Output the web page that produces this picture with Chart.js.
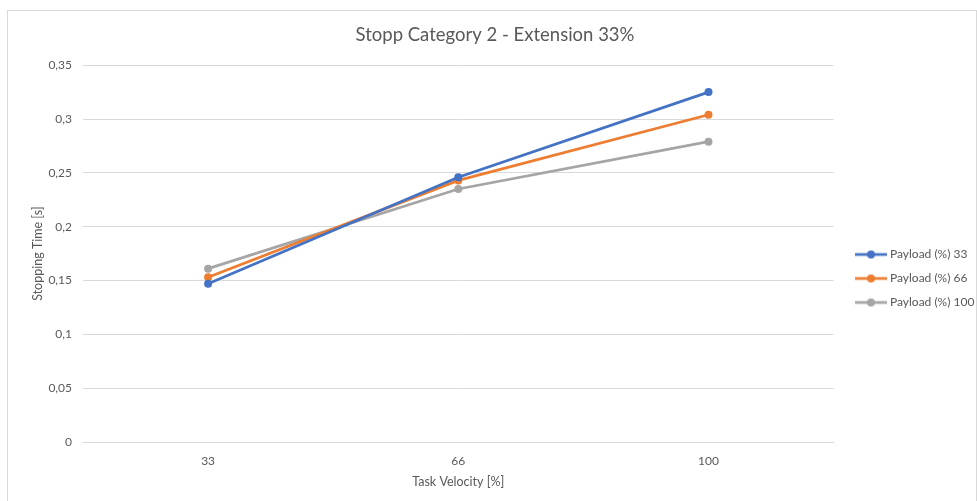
<!DOCTYPE html>
<html>
<head>
<meta charset="utf-8">
<script src="https://cdn.jsdelivr.net/npm/chart.js@4.4.1/dist/chart.umd.min.js"></script>
<style>
  html, body { margin: 0; padding: 0; background: #fff; overflow: hidden; }
  #wrap { position: relative; width: 977px; height: 501px; }
  #frame { position: absolute; left: 7px; top: 10px; width: 968px; height: 495px;
           border-left: 1px solid #d9d9d9; border-top: 1px solid #d9d9d9; border-right: 1px solid #d9d9d9; pointer-events: none; }
  canvas { position: absolute; left: 0; top: 0; }
</style>
</head>
<body>
<div id="wrap">
  <canvas id="c" width="977" height="501"></canvas>
  <div id="frame"></div>
</div>
<script>
const chartTitle = "Stopp Category 2 - Extension 33%";
const xAxisTitle = "Task Velocity [%]";
const yAxisTitle = "Stopping Time [s]";
const categories = ["33", "66", "100"];
const seriesNames = ["Payload (%) 33", "Payload (%) 66", "Payload (%) 100"];
const payload33 = [0.147, 0.246, 0.325];
const payload66 = [0.153, 0.243, 0.304];
const payload100 = [0.161, 0.235, 0.279];
const seriesColors = ["#4472C4", "#ED7D31", "#A5A5A5"];
const yTicks = [0, 0.05, 0.1, 0.15, 0.2, 0.25, 0.3, 0.35];

const FONT = "Lato, 'Liberation Sans', sans-serif";
const TEXT = "#595959";

function legendMarker(color) {
  const c = document.createElement('canvas');
  c.width = 32; c.height = 10;
  const g = c.getContext('2d');
  g.strokeStyle = color; g.lineWidth = 2.75; g.lineCap = 'butt';
  g.beginPath(); g.moveTo(0, 5); g.lineTo(32, 5); g.stroke();
  g.fillStyle = color;
  g.beginPath(); g.arc(16, 5, 4, 0, Math.PI * 2); g.fill();
  return c;
}

const seriesValues = [payload33, payload66, payload100];
const datasets = seriesNames.map((name, i) => ({
  label: name,
  data: seriesValues[i],
  borderColor: seriesColors[i],
  backgroundColor: seriesColors[i],
  borderWidth: 2.75,
  pointRadius: 4,
  pointHoverRadius: 4,
  pointBorderWidth: 0,
  tension: 0,
  pointStyle: 'circle',
  markerImg: legendMarker(seriesColors[i])
}));

const legendShift = {
  id: 'legendShift',
  afterLayout(chart) {
    const L = chart.legend;
    if (!L) return;
    const dx = 846 - L.left;
    const dy = 278.5 - (L.top + L.bottom) / 2;
    L.left += dx; L.right += dx; L.top += dy; L.bottom += dy;
  }
};

new Chart(document.getElementById('c'), {
  type: 'line',
  data: { labels: categories, datasets },
  plugins: [legendShift],
  options: {
    responsive: false,
    devicePixelRatio: 1,
    animation: false,
    layout: { padding: { left: 18, right: 5, top: 24, bottom: 12 } },
    plugins: {
      title: {
        display: true, text: chartTitle, color: TEXT,
        font: { family: FONT, size: 18.5, weight: 'normal' },
        padding: { top: 0, bottom: 19 }
      },
      legend: {
        position: 'right',
        labels: {
          usePointStyle: true,
          pointStyleWidth: 26,
          boxHeight: 10,
          padding: 12,
          color: TEXT,
          font: { family: FONT, size: 12 },
          generateLabels(chart) {
            return chart.data.datasets.map((ds, i) => ({
              text: ds.label,
              fillStyle: ds.borderColor,
              strokeStyle: ds.borderColor,
              lineWidth: 0,
              pointStyle: ds.markerImg,
              fontColor: TEXT,
              hidden: false,
              datasetIndex: i
            }));
          }
        }
      },
      tooltip: { enabled: false }
    },
    scales: {
      x: {
        offset: true,
        afterFit(scale) { scale.height = 47; },
        grid: { display: false, drawTicks: false },
        border: { display: true, color: '#d9d9d9', width: 1 },
        ticks: { color: TEXT, font: { family: FONT, size: 12 }, padding: 12 },
        title: { display: true, text: xAxisTitle, color: TEXT, font: { family: FONT, size: 12.5 }, padding: { top: 0, bottom: 0 } }
      },
      y: {
        min: 0, max: 0.35,
        afterBuildTicks(scale) { scale.ticks = yTicks.map(v => ({ value: v })); },
        afterFit(scale) { scale.width = 65; },
        grid: { color: '#d9d9d9', lineWidth: 1, drawTicks: false },
        border: { display: false },
        ticks: {
          color: TEXT, font: { family: FONT, size: 12 }, padding: 11,
          callback: v => String(+v.toFixed(2)).replace('.', ',')
        },
        title: { display: true, text: yAxisTitle, color: TEXT, font: { family: FONT, size: 12.5 }, padding: { top: 12, bottom: 4 } }
      }
    }
  }
});
</script>
</body>
</html>
